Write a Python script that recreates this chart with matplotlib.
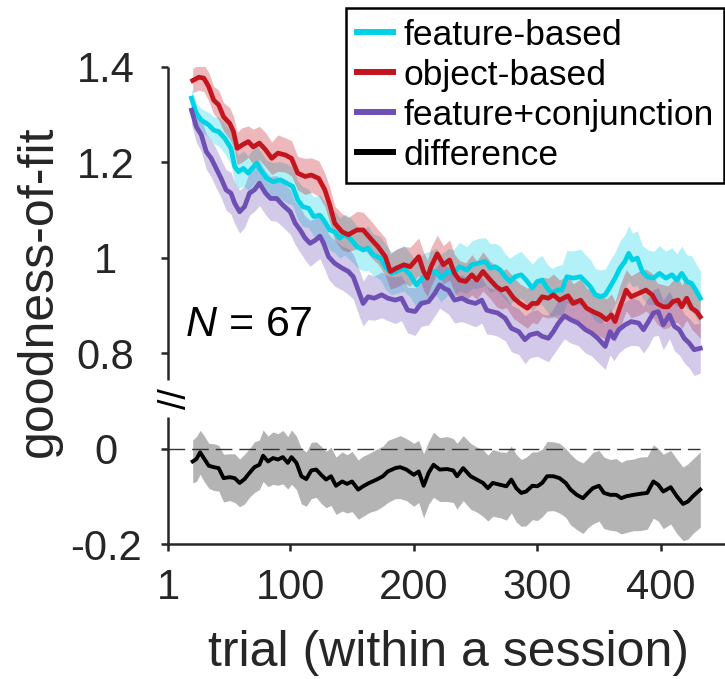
import numpy as np
import matplotlib
matplotlib.use('Agg')
import matplotlib.pyplot as plt
from matplotlib.lines import Line2D

plt.rcParams['font.family'] = ['Liberation Sans', 'DejaVu Sans']
plt.rcParams['mathtext.fontset'] = 'custom'
plt.rcParams['mathtext.it'] = 'Liberation Sans:italic'
plt.rcParams['mathtext.rm'] = 'Liberation Sans'

# (trial, mean goodness-of-fit, sem)
feature_based = [
    (20, 1.334, .020), (24, 1.302, .022), (28, 1.288, .024), (34, 1.278, .026), (38, 1.267, .028),
    (42, 1.264, .030), (47, 1.250, .032), (52, 1.229, .034), (55, 1.191, .036), (58, 1.180, .035),
    (62, 1.187, .037), (66, 1.177, .036), (69, 1.187, .038), (73, 1.198, .037), (75, 1.187, .039),
    (81, 1.166, .038), (86, 1.159, .040), (92, 1.163, .038), (97, 1.156, .041), (102, 1.149, .039),
    (106, 1.121, .040), (110, 1.107, .042), (115, 1.103, .040), (119, 1.086, .041), (124, 1.089, .043),
    (128, 1.075, .041), (132, 1.058, .042), (136, 1.054, .044), (140, 1.041, .042), (144, 1.048, .043),
    (148, 1.041, .045), (154, 1.023, .043), (159, 1.016, .044), (163, 1.020, .046), (167, 1.006, .044),
    (173, 0.999, .045), (177, 0.981, .047), (182, 0.967, .045), (186, 0.971, .046), (192, 0.978, .048),
    (197, 0.964, .046), (202, 0.943, .047), (208, 0.960, .049), (213, 0.967, .047), (218, 0.971, .048),
    (222, 0.957, .050), (228, 0.971, .048), (232, 0.967, .049), (237, 0.981, .051), (243, 0.974, .049),
    (247, 0.985, .050), (252, 0.988, .052), (258, 0.992, .050), (262, 0.978, .051), (266, 0.981, .049),
    (270, 0.974, .050), (274, 0.960, .048), (278, 0.950, .049), (282, 0.960, .047), (287, 0.964, .049),
    (291, 0.953, .048), (296, 0.936, .050), (300, 0.950, .049), (304, 0.953, .051), (308, 0.936, .050),
    (312, 0.925, .052), (316, 0.932, .051), (320, 0.932, .053), (324, 0.960, .055), (329, 0.957, .057),
    (335, 0.960, .058), (339, 0.950, .056), (343, 0.939, .057), (347, 0.922, .055), (351, 0.918, .056),
    (355, 0.922, .054), (359, 0.939, .056), (363, 0.957, .055), (367, 0.978, .057), (371, 0.992, .056),
    (374, 1.009, .058), (377, 0.995, .056), (381, 0.999, .057), (385, 0.971, .055), (389, 0.960, .057),
    (394, 0.957, .056), (399, 0.967, .058), (404, 0.957, .056), (409, 0.964, .057), (413, 0.953, .055),
    (417, 0.967, .057), (421, 0.950, .056), (425, 0.946, .058), (429, 0.929, .056), (432, 0.915, .057),
]

object_based = [
    (21, 1.371, .025), (26, 1.378, .027), (30, 1.376, .028), (34, 1.358, .030), (38, 1.330, .029),
    (42, 1.320, .031), (46, 1.295, .030), (51, 1.281, .033), (54, 1.264, .032), (57, 1.229, .034),
    (61, 1.236, .036), (66, 1.243, .033), (70, 1.232, .037), (75, 1.240, .035), (80, 1.226, .036),
    (85, 1.208, .034), (90, 1.219, .038), (96, 1.215, .036), (101, 1.208, .037), (106, 1.177, .035),
    (112, 1.170, .038), (117, 1.173, .036), (123, 1.166, .037), (128, 1.142, .035), (132, 1.110, .037),
    (136, 1.072, .036), (142, 1.054, .038), (147, 1.048, .036), (154, 1.058, .039), (159, 1.058, .037),
    (166, 1.037, .038), (171, 1.023, .036), (177, 1.002, .039), (181, 0.971, .037), (186, 0.978, .040),
    (192, 0.985, .038), (197, 0.981, .041), (204, 1.002, .039), (208, 0.971, .040), (211, 0.957, .038),
    (214, 0.981, .041), (219, 1.008, .039), (224, 0.985, .040), (229, 0.995, .042), (233, 0.967, .040),
    (237, 0.953, .041), (242, 0.950, .039), (247, 0.964, .042), (251, 0.953, .040), (256, 0.971, .041),
    (262, 0.953, .039), (267, 0.939, .042), (271, 0.932, .040), (275, 0.936, .041), (281, 0.915, .043),
    (286, 0.904, .041), (292, 0.894, .042), (296, 0.904, .040), (300, 0.904, .043), (304, 0.918, .041),
    (309, 0.915, .042), (313, 0.922, .044), (318, 0.911, .042), (325, 0.920, .043), (329, 0.904, .041),
    (335, 0.911, .044), (340, 0.894, .042), (345, 0.887, .043), (351, 0.880, .045), (356, 0.870, .043),
    (360, 0.880, .044), (363, 0.866, .042), (367, 0.897, .045), (372, 0.932, .043), (376, 0.918, .044),
    (382, 0.925, .046), (388, 0.932, .044), (393, 0.922, .045), (397, 0.904, .043), (402, 0.897, .046),
    (406, 0.897, .044), (410, 0.908, .045), (414, 0.911, .047), (417, 0.897, .045), (421, 0.915, .046),
    (425, 0.894, .044), (429, 0.887, .047), (432, 0.876, .046),
]

feature_conj = [
    (20, 1.309, .030), (24, 1.274, .033), (28, 1.257, .035), (32, 1.222, .037), (36, 1.208, .039),
    (40, 1.187, .041), (44, 1.166, .040), (48, 1.142, .042), (52, 1.135, .044), (55, 1.114, .043),
    (59, 1.096, .045), (63, 1.107, .044), (67, 1.135, .046), (71, 1.142, .045), (75, 1.156, .047),
    (80, 1.135, .045), (84, 1.124, .046), (89, 1.124, .048), (94, 1.110, .046), (100, 1.096, .047),
    (104, 1.072, .045), (108, 1.058, .047), (112, 1.041, .046), (116, 1.030, .048), (120, 1.036, .046),
    (124, 1.045, .047), (127, 1.030, .049), (131, 1.002, .047), (136, 0.988, .048), (142, 0.978, .046),
    (147, 0.971, .048), (151, 0.960, .047), (156, 0.925, .049), (159, 0.904, .047), (163, 0.918, .048),
    (168, 0.915, .046), (174, 0.922, .048), (179, 0.915, .047), (185, 0.911, .049), (190, 0.915, .047),
    (195, 0.890, .048), (201, 0.887, .050), (206, 0.904, .048), (212, 0.908, .049), (217, 0.925, .047),
    (221, 0.943, .049), (225, 0.935, .048), (228, 0.932, .050), (233, 0.911, .048), (239, 0.915, .049),
    (244, 0.908, .047), (250, 0.904, .049), (255, 0.911, .048), (259, 0.890, .050), (263, 0.887, .048),
    (268, 0.884, .049), (274, 0.873, .047), (279, 0.852, .049), (285, 0.845, .048), (290, 0.828, .050),
    (294, 0.838, .048), (300, 0.842, .049), (304, 0.835, .047), (309, 0.831, .049), (313, 0.845, .048),
    (317, 0.862, .050), (322, 0.878, .048), (327, 0.870, .049), (333, 0.863, .047), (339, 0.849, .049),
    (344, 0.842, .048), (349, 0.831, .050), (355, 0.814, .048), (359, 0.845, .049), (362, 0.831, .047),
    (366, 0.849, .049), (371, 0.859, .048), (376, 0.866, .050), (382, 0.863, .048), (386, 0.849, .049),
    (390, 0.866, .051), (394, 0.884, .049), (398, 0.887, .050), (402, 0.859, .052), (407, 0.880, .050),
    (411, 0.856, .051), (415, 0.849, .053), (419, 0.831, .051), (423, 0.821, .052), (427, 0.807, .054),
    (432, 0.810, .052),
]

difference = [
    (21, -0.027, .045), (24, -0.022, .047), (27, -0.008, .046), (30, -0.020, .048), (34, -0.036, .047),
    (38, -0.039, .049), (42, -0.041, .048), (46, -0.062, .050), (51, -0.060, .049), (55, -0.062, .051),
    (59, -0.072, .050), (63, -0.064, .052), (67, -0.051, .051), (71, -0.039, .053), (75, -0.034, .052),
    (78, -0.015, .054), (82, -0.027, .053), (86, -0.020, .055), (90, -0.023, .054), (94, -0.018, .056),
    (98, -0.030, .055), (101, -0.018, .057), (105, -0.030, .056), (109, -0.058, .058), (113, -0.064, .057),
    (117, -0.046, .059), (121, -0.044, .058), (125, -0.055, .060), (129, -0.065, .059), (133, -0.058, .061),
    (137, -0.078, .060), (142, -0.069, .062), (146, -0.074, .061), (150, -0.069, .063), (155, -0.086, .062),
    (159, -0.079, .063), (164, -0.072, .062), (170, -0.065, .064), (175, -0.058, .063), (179, -0.048, .065),
    (185, -0.041, .064), (189, -0.039, .066), (194, -0.044, .065), (200, -0.055, .066), (204, -0.048, .065),
    (208, -0.078, .067), (212, -0.051, .066), (216, -0.034, .068), (221, -0.044, .067), (227, -0.043, .068),
    (232, -0.046, .067), (235, -0.058, .069), (240, -0.041, .068), (246, -0.058, .069), (251, -0.065, .068),
    (256, -0.072, .070), (260, -0.083, .069), (264, -0.072, .070), (270, -0.076, .069), (275, -0.079, .071),
    (279, -0.065, .070), (283, -0.083, .071), (287, -0.093, .070), (291, -0.090, .072), (296, -0.078, .071),
    (300, -0.079, .072), (304, -0.072, .071), (308, -0.058, .073), (313, -0.058, .072), (318, -0.062, .073),
    (323, -0.072, .072), (327, -0.086, .074), (332, -0.097, .073), (337, -0.104, .074), (341, -0.093, .073),
    (345, -0.083, .075), (350, -0.078, .074), (354, -0.093, .075), (359, -0.097, .074), (364, -0.097, .076),
    (368, -0.104, .075), (372, -0.100, .076), (378, -0.097, .075), (383, -0.095, .077), (389, -0.093, .076),
    (394, -0.069, .077), (398, -0.076, .076), (402, -0.090, .078), (408, -0.081, .077), (413, -0.100, .078),
    (418, -0.116, .077), (422, -0.111, .079), (426, -0.100, .078), (432, -0.086, .079),
]

series_names = ['feature-based', 'object-based', 'feature+conjunction', 'difference']
series_colors = ['#00d2e6', '#c4141e', '#6e4fb4', 'black']

yticks_pos = [0.4, 0.6, 0.8, 1.0, 1.2, 1.4]
yticks_txt = ['-0.2', '0', '0.8', '1', '1.2', '1.4']
xticks = [1, 100, 200, 300, 400]

shift = 0.6  # lower (difference) panel is drawn 0.6 higher on the same axis

fig = plt.figure(figsize=(7.25, 6.79), dpi=100)
ax = fig.add_axes([168 / 725, 135 / 679, 560.7 / 725, 477.3 / 679])

for data, col in zip([feature_based, object_based, feature_conj], series_colors[:3]):
    a = np.array(data)
    t, m, s = a[:, 0], a[:, 1], a[:, 2]
    ax.fill_between(t, m - s, m + s, color=col, alpha=0.3, lw=0)
    ax.plot(t, m, color=col, lw=3.4, solid_joinstyle='round')

d = np.array(difference)
t, m, s = d[:, 0], d[:, 1] + shift, d[:, 2]
ax.fill_between(t, m - s, m + s, color='#b4b4b4', lw=0)
ax.plot([1, 432], [shift, shift], color='#333333', lw=1.0, dashes=(12, 5))
ax.plot(t, m, color='black', lw=2.8)

ax.set_xlim(1, 455)
ax.set_ylim(0.4, 1.4)

for sp in ['top', 'right', 'left']:
    ax.spines[sp].set_visible(False)
ax.spines['bottom'].set_linewidth(1.8)
ax.spines['bottom'].set_color('#262626')
# broken y axis
ytr = ax.get_yaxis_transform()
ax.plot([0, 0], [0.743, 1.4], transform=ytr, color='#262626', lw=1.8, clip_on=False, solid_capstyle='butt')
ax.plot([0, 0], [0.4, 0.666], transform=ytr, color='#262626', lw=1.8, clip_on=False, solid_capstyle='butt')
ax.text(7.4, 0.705, '//', rotation=90, ha='center', va='center', fontsize=27, clip_on=False)

ax.set_xticks(xticks)
ax.set_xticklabels([str(x) for x in xticks])
ax.set_yticks(yticks_pos)
ax.set_yticklabels(yticks_txt)
ax.tick_params(axis='both', direction='out', length=5, width=1.8, color='#262626',
               labelsize=30, labelcolor='#262626')
ax.tick_params(axis='x', pad=12)
ax.tick_params(axis='y', pad=40)
for lbl in ax.get_yticklabels():
    lbl.set_horizontalalignment('center')

ax.set_xlabel('trial (within a session)', fontsize=36, color='#262626', labelpad=16)
ax.set_ylabel('goodness-of-fit', fontsize=36, color='#262626')
ax.yaxis.set_label_coords(-0.19, 0.53)

ax.text(14.7, 0.836, r'$N$ = 67', fontsize=31, ha='left', va='baseline')

handles = [Line2D([], [], color=c, lw=4.3) for c in series_colors]
leg = fig.legend(handles, series_names, loc='upper right', bbox_to_anchor=(724 / 725, 1 - 8 / 679),
                 bbox_transform=fig.transFigure, fontsize=25.5, frameon=True, fancybox=False,
                 edgecolor='black', framealpha=1, borderpad=0.3, labelspacing=0.2,
                 handlelength=1.0, handletextpad=0.3, borderaxespad=0)
leg.get_frame().set_linewidth(1.8)

fig.savefig('out.png', dpi=100)
